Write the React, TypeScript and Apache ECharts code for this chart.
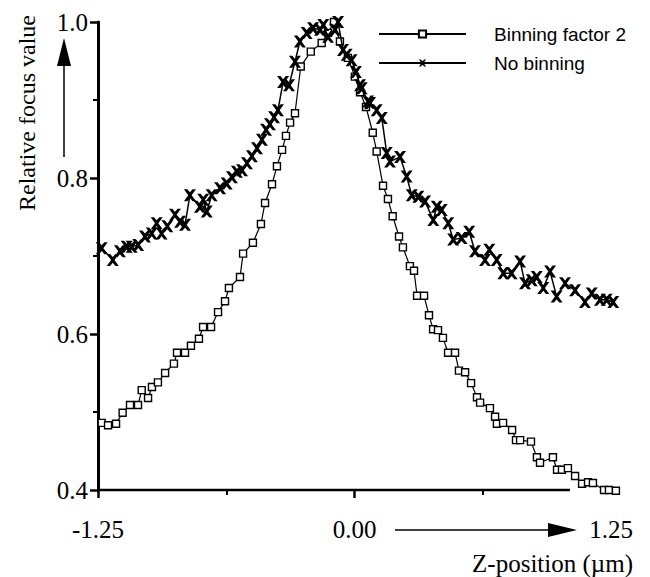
import React, { useEffect, useRef } from 'react';
import * as echarts from 'echarts';

// ---- Data ----
const seriesNames = ['Binning factor 2', 'No binning'];

// Binning factor 2 (open squares)
const binZ = [
  -1.232, -1.201, -1.162, -1.130, -1.094, -1.055, -1.037, -1.006, -0.987, -0.958,
  -0.923, -0.880, -0.865, -0.826, -0.797, -0.758, -0.738, -0.699, -0.665, -0.631,
  -0.612, -0.558, -0.543, -0.495, -0.456, -0.436, -0.402, -0.378, -0.353, -0.334,
  -0.314, -0.290, -0.262, -0.213, -0.160, -0.129, -0.100, -0.071, -0.032, 0.002,
  0.027, 0.056, 0.089, 0.108, 0.139, 0.163, 0.186, 0.217, 0.236, 0.270,
  0.290, 0.305, 0.339, 0.363, 0.383, 0.407, 0.431, 0.456, 0.490, 0.509,
  0.539, 0.568, 0.597, 0.612, 0.660, 0.685, 0.694, 0.724, 0.768, 0.787,
  0.807, 0.860, 0.889, 0.904, 0.967, 0.987, 1.011, 1.040, 1.075, 1.109,
  1.138, 1.162, 1.216, 1.240, 1.274,
];
const binV = [
  0.486, 0.483, 0.485, 0.499, 0.509, 0.509, 0.528, 0.518, 0.532, 0.538,
  0.550, 0.562, 0.576, 0.576, 0.585, 0.594, 0.609, 0.609, 0.628, 0.642,
  0.659, 0.673, 0.703, 0.717, 0.741, 0.768, 0.792, 0.815, 0.836, 0.854,
  0.871, 0.883, 0.943, 0.962, 0.973, 0.986, 1.000, 0.975, 0.954, 0.930,
  0.910, 0.891, 0.858, 0.834, 0.790, 0.773, 0.751, 0.725, 0.711, 0.687,
  0.681, 0.649, 0.649, 0.624, 0.606, 0.605, 0.595, 0.576, 0.576, 0.553,
  0.551, 0.537, 0.519, 0.512, 0.505, 0.494, 0.485, 0.486, 0.477, 0.464,
  0.464, 0.462, 0.442, 0.435, 0.442, 0.426, 0.426, 0.428, 0.418, 0.408,
  0.410, 0.409, 0.400, 0.400, 0.399,
];

// No binning (crosses)
const noZ = [
  -1.232, -1.178, -1.143, -1.110, -1.086, -1.054, -1.021, -0.988, -0.964, -0.940,
  -0.912, -0.875, -0.850, -0.826, -0.802, -0.753, -0.737, -0.720, -0.696, -0.655,
  -0.623, -0.597, -0.573, -0.548, -0.524, -0.500, -0.475, -0.451, -0.431, -0.412,
  -0.392, -0.373, -0.348, -0.319, -0.290, -0.266, -0.233, -0.202, -0.168, -0.152,
  -0.129, -0.095, -0.080, -0.056, -0.038, -0.014, 0.007, 0.027, 0.035, 0.066,
  0.076, 0.108, 0.133, 0.157, 0.173, 0.222, 0.254, 0.279, 0.311, 0.344,
  0.384, 0.401, 0.425, 0.457, 0.481, 0.522, 0.559, 0.587, 0.636, 0.657,
  0.693, 0.725, 0.766, 0.807, 0.831, 0.864, 0.888, 0.920, 0.953, 0.985,
  1.026, 1.075, 1.123, 1.156, 1.196, 1.229, 1.261,
];
const noV = [
  0.710, 0.695, 0.706, 0.712, 0.712, 0.714, 0.725, 0.729, 0.742, 0.729,
  0.738, 0.753, 0.744, 0.740, 0.778, 0.763, 0.772, 0.757, 0.778, 0.787,
  0.793, 0.801, 0.808, 0.810, 0.819, 0.828, 0.838, 0.849, 0.862, 0.869,
  0.878, 0.887, 0.923, 0.919, 0.949, 0.975, 0.986, 0.992, 0.990, 0.996,
  0.981, 0.990, 1.000, 0.964, 0.958, 0.951, 0.936, 0.919, 0.915, 0.898,
  0.896, 0.887, 0.877, 0.832, 0.821, 0.827, 0.802, 0.778, 0.776, 0.770,
  0.746, 0.763, 0.759, 0.742, 0.721, 0.723, 0.731, 0.706, 0.695, 0.708,
  0.695, 0.678, 0.678, 0.693, 0.665, 0.669, 0.673, 0.659, 0.680, 0.648,
  0.665, 0.656, 0.641, 0.652, 0.644, 0.644, 0.641,
];

// Axis ticks / labels
const xMin = -1.25;
const xMax = 1.25;
const xLabelValues = [-1.25, 0, 1.25];
const xMajorTicks = [-1.25, 0];
const xMinorTicks = [-0.625, 0.625];
const xAxisLineEnd = 1.05;
const yMin = 0.4;
const yMax = 1.0;
const yInterval = 0.2;

const xAxisTitle = 'Z-position (µm)';
const yAxisTitle = 'Relative focus value';

const X_SYMBOL =
  'path://M0,0L2.8,0L5,2.6L7.2,0L10,0L6.4,5L10,10L7.2,10L5,7.4L2.8,10L0,10L3.6,5Z';

const SERIF = '"Liberation Serif", "Times New Roman", serif';
const SANS = '"Liberation Sans", Arial, sans-serif';

export default function App() {
  const ref = useRef<HTMLDivElement>(null);

  useEffect(() => {
    document.body.style.margin = '0';
    if (!ref.current) return;
    const chart = echarts.init(ref.current, undefined, { renderer: 'svg' });

    const binData = binZ.map((z, i) => [z, binV[i]]);
    const noData = noZ.map((z, i) => [z, noV[i]]);

    chart.setOption({
      animation: false,
      backgroundColor: '#ffffff',
      grid: { left: 98, right: 39, top: 22, bottom: 87, containLabel: false },
      legend: {
        data: seriesNames,
        orient: 'vertical',
        left: 378,
        top: 24,
        padding: 0,
        itemWidth: 87,
        itemHeight: 9,
        itemGap: 9,
        textStyle: {
          fontFamily: SANS,
          fontSize: 19,
          color: '#000',
          lineHeight: 20,
          padding: [0, 0, 0, 23],
        },
      },
      xAxis: [
        {
          type: 'value',
          min: xMin,
          max: xMax,
          interval: 1.25,
          position: 'bottom',
          axisLine: { show: false },
          axisTick: {
            show: true,
            length: 8,
            customValues: xMajorTicks,
            lineStyle: { color: '#000', width: 2.5 },
          },
          axisLabel: {
            customValues: xLabelValues,
            formatter: (v: number) => v.toFixed(2),
            fontFamily: SERIF,
            fontSize: 25,
            color: '#000',
            margin: 27,
          },
          splitLine: { show: false },
        },
        {
          type: 'value',
          min: xMin,
          max: xMax,
          interval: 0.625,
          position: 'bottom',
          axisLine: { show: false },
          axisTick: {
            show: true,
            length: 5,
            customValues: xMinorTicks,
            lineStyle: { color: '#000', width: 2 },
          },
          axisLabel: { show: false },
          splitLine: { show: false },
        },
      ],
      yAxis: {
        type: 'value',
        min: yMin,
        max: yMax,
        interval: yInterval,
        axisLine: { show: true, onZero: false, lineStyle: { color: '#000', width: 3 } },
        axisTick: { show: true, length: 8, lineStyle: { color: '#000', width: 2.5 } },
        minorTick: { show: true, splitNumber: 2, length: 5, lineStyle: { color: '#000', width: 2 } },
        axisLabel: {
          formatter: (v: number) => v.toFixed(1),
          fontFamily: SERIF,
          fontSize: 25,
          color: '#000',
          margin: 10,
        },
        splitLine: { show: false },
        minorSplitLine: { show: false },
      },
      graphic: [
        { type: 'line', shape: { x1: 64, y1: 157, x2: 64, y2: 62 }, style: { stroke: '#000', lineWidth: 1.5 } },
        { type: 'polygon', shape: { points: [[57, 66], [71, 66], [64, 38]] }, style: { fill: '#000' } },
        { type: 'line', shape: { x1: 395, y1: 530, x2: 552, y2: 530 }, style: { stroke: '#000', lineWidth: 1.5 } },
        { type: 'polygon', shape: { points: [[548, 523], [548, 537], [577, 530]] }, style: { fill: '#000' } },
        {
          type: 'text',
          x: 27,
          y: 113,
          rotation: Math.PI / 2,
          style: {
            text: yAxisTitle,
            font: `24px ${SERIF}`,
            fill: '#000',
            textAlign: 'center',
            textVerticalAlign: 'middle',
          },
        },
        {
          type: 'text',
          x: 633,
          y: 563,
          style: {
            text: xAxisTitle,
            font: `25px ${SERIF}`,
            fill: '#000',
            textAlign: 'right',
            textVerticalAlign: 'middle',
          },
        },
      ],
      series: [
        {
          name: 'axis',
          type: 'line',
          xAxisIndex: 0,
          data: [[xMin, yMin], [xAxisLineEnd, yMin]],
          symbol: 'none',
          silent: true,
          clip: false,
          z: 1,
          lineStyle: { color: '#000', width: 2.5 },
        },
        {
          name: seriesNames[0],
          type: 'line',
          xAxisIndex: 0,
          data: binData,
          symbol: 'rect',
          symbolSize: 7,
          clip: false,
          z: 3,
          itemStyle: { color: '#fff', borderColor: '#000', borderWidth: 1.4 },
          lineStyle: { color: '#000', width: 1.2 },
        },
        {
          name: seriesNames[1],
          type: 'line',
          xAxisIndex: 0,
          data: noData,
          symbol: X_SYMBOL,
          symbolSize: 12,
          clip: false,
          z: 4,
          itemStyle: { color: '#000' },
          lineStyle: { color: '#000', width: 1.5 },
        },
      ],
    });

    return () => chart.dispose();
  }, []);

  return <div ref={ref} style={{ width: 650, height: 577 }} />;
}
